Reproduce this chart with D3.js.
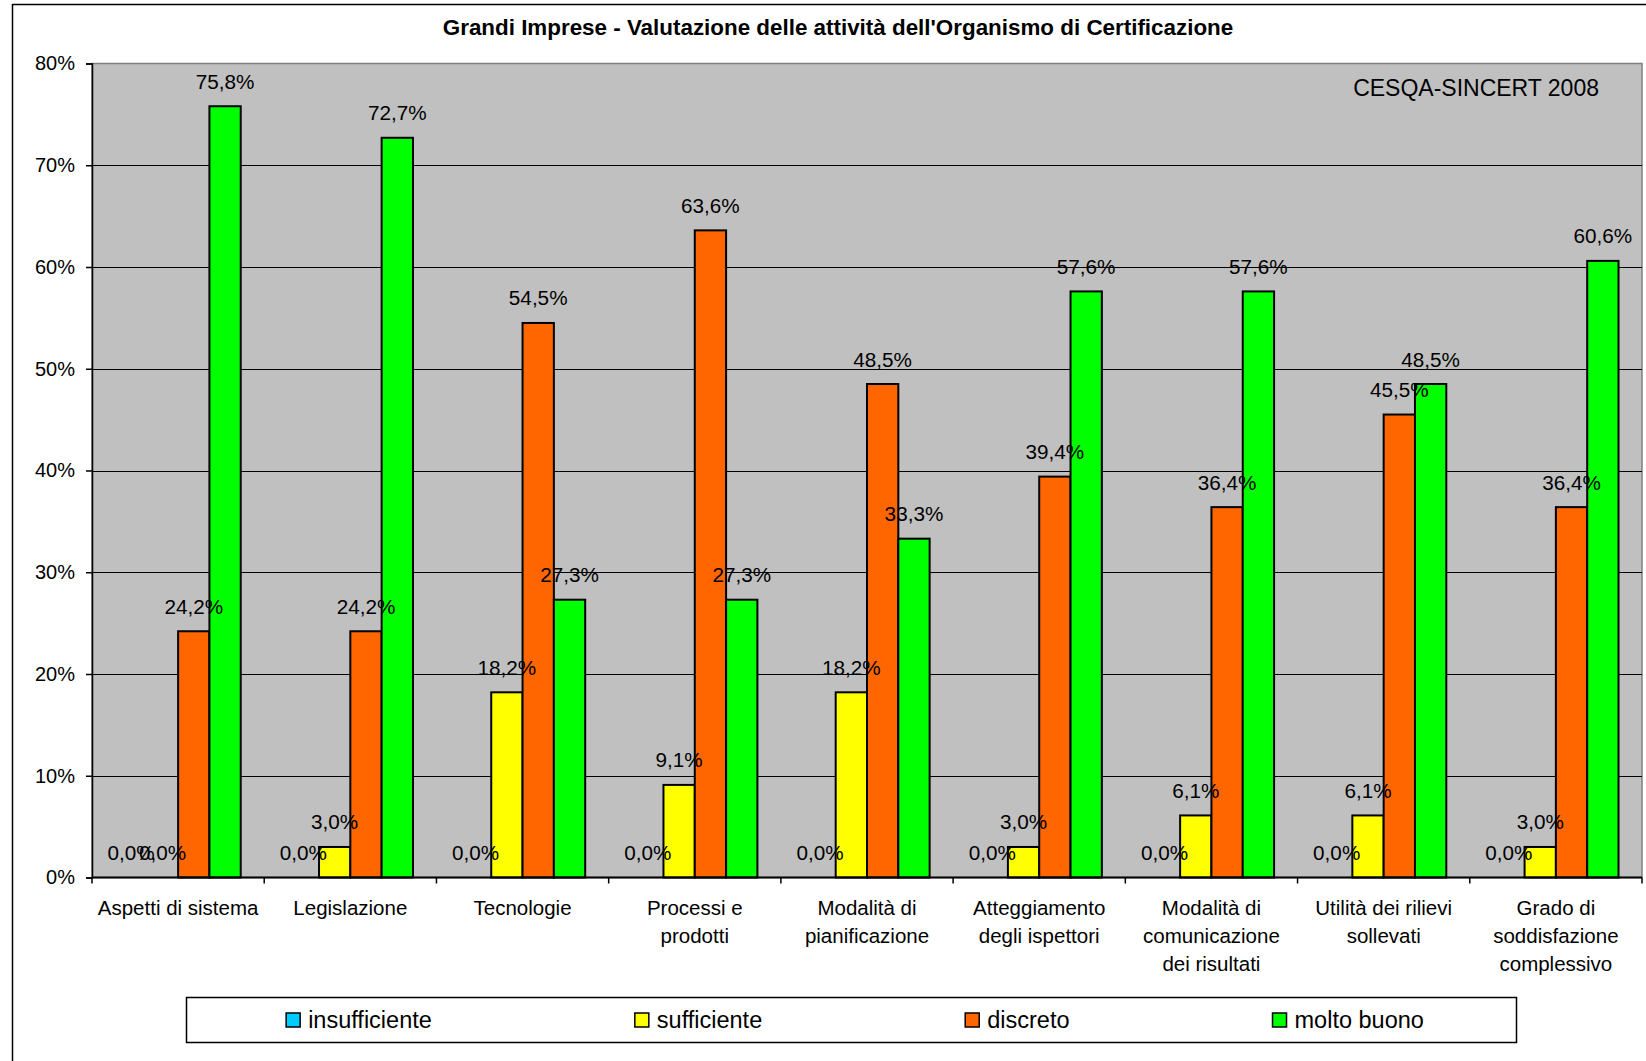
<!DOCTYPE html>
<html><head><meta charset="utf-8">
<script src="https://cdn.jsdelivr.net/npm/d3@7"></script>
<style>html,body{margin:0;padding:0;background:#fff;}svg{display:block;font-family:"Liberation Sans",Arial,sans-serif;}</style>
</head><body>
<svg id="c" width="1646" height="1061"></svg>
<script>
const categories = [
  ["Aspetti di sistema"],
  ["Legislazione"],
  ["Tecnologie"],
  ["Processi e", "prodotti"],
  ["Modalità di", "pianificazione"],
  ["Atteggiamento", "degli ispettori"],
  ["Modalità di", "comunicazione", "dei risultati"],
  ["Utilità dei rilievi", "sollevati"],
  ["Grado di", "soddisfazione", "complessivo"]
];
const seriesNames = ["insufficiente", "sufficiente", "discreto", "molto buono"];
const insufficiente = [0, 0, 0, 0, 0, 0, 0, 0, 0];
const sufficiente = [0, 3.0, 18.2, 9.1, 18.2, 3.0, 6.1, 6.1, 3.0];
const discreto = [24.2, 24.2, 54.5, 63.6, 48.5, 39.4, 36.4, 45.5, 36.4];
const moltoBuono = [75.8, 72.7, 27.3, 27.3, 33.3, 57.6, 57.6, 48.5, 60.6];
const seriesColors = ["#00CCFF", "#FFFF00", "#FF6600", "#00FF00"];
const yTicks = [0, 10, 20, 30, 40, 50, 60, 70, 80];
const title = "Grandi Imprese - Valutazione delle attività dell'Organismo di Certificazione";
const watermark = "CESQA-SINCERT 2008";

const series = [insufficiente, sufficiente, discreto, moltoBuono];
const svg = d3.select("#c");
const m = {left: 92, right: 1642, top: 63.5, bottom: 877.5};

// outer chart border
svg.append("rect").attr("x", 12.5).attr("y", 4.5).attr("width", 1700).attr("height", 1100)
  .attr("fill", "#fff").attr("stroke", "#000").attr("stroke-width", 1.5);

const x0 = d3.scaleBand().domain(d3.range(categories.length)).range([m.left, m.right]).paddingInner(0).paddingOuter(0);
const x1 = d3.scaleBand().domain(d3.range(series.length)).range([0, x0.bandwidth()]).paddingInner(0).paddingOuter(0.75);
const y = d3.scaleLinear().domain([0, 80]).range([m.bottom, m.top]);

// plot area
svg.append("rect").attr("x", m.left).attr("y", m.top).attr("width", m.right - m.left).attr("height", m.bottom - m.top)
  .attr("fill", "#C0C0C0").attr("stroke", "#808080").attr("stroke-width", 1.5);

// gridlines
svg.append("g").selectAll("line").data(yTicks.filter(t => t > 0 && t < 80)).join("line")
  .attr("x1", m.left).attr("x2", m.right).attr("y1", d => Math.round(y(d)) + 0.5).attr("y2", d => Math.round(y(d)) + 0.5)
  .attr("stroke", "#000").attr("stroke-width", 1);

// bars
const groups = svg.append("g").selectAll("g").data(categories).join("g")
  .attr("transform", (d, i) => `translate(${x0(i)},0)`);
const barData = (ci) => series.map((s, si) => ({si, v: s[ci]}));
groups.each(function(cat, ci) {
  const g = d3.select(this);
  g.selectAll("rect").data(barData(ci).filter(d => d.v > 0)).join("rect")
    .attr("x", d => x1(d.si)).attr("width", x1.bandwidth())
    .attr("y", d => y(d.v)).attr("height", d => y(0) - y(d.v))
    .attr("fill", d => seriesColors[d.si]).attr("stroke", "#000").attr("stroke-width", 2);
});
groups.each(function(cat, ci) {
  const g = d3.select(this);
  g.selectAll("text.lbl").data(barData(ci)).join("text").attr("class", "lbl")
    .attr("x", d => x1(d.si) + x1.bandwidth() / 2).attr("y", d => y(d.v) - 25)
    .attr("text-anchor", "middle").attr("dominant-baseline", "central")
    .attr("font-size", 20.7).attr("fill", "#000")
    .text(d => d.v.toFixed(1).replace(".", ",") + "%");
});

// y axis
const yAxis = d3.axisLeft(y).tickValues(yTicks).tickSize(6).tickPadding(11).tickFormat(d => d + "%");
const ya = svg.append("g").attr("transform", `translate(${m.left},0)`).call(yAxis);
ya.select(".domain").attr("stroke", "#000").attr("stroke-width", 1.5);
ya.selectAll(".tick line").attr("stroke", "#000").attr("stroke-width", 1.5);
ya.selectAll(".tick text").attr("font-size", 20).attr("font-family", "Liberation Sans, Arial, sans-serif").attr("fill", "#000");

// x axis
svg.append("line").attr("x1", m.left).attr("x2", m.right).attr("y1", m.bottom).attr("y2", m.bottom)
  .attr("stroke", "#000").attr("stroke-width", 2);
svg.append("g").selectAll("line").data(d3.range(categories.length + 1)).join("line")
  .attr("x1", i => i < categories.length ? x0(i) : m.right).attr("x2", i => i < categories.length ? x0(i) : m.right)
  .attr("y1", m.bottom).attr("y2", m.bottom + 6).attr("stroke", "#000").attr("stroke-width", 1.5);
const catG = svg.append("g").selectAll("text").data(categories).join("text")
  .attr("text-anchor", "middle").attr("font-size", 20.5).attr("fill", "#000")
  .attr("x", (d, i) => x0(i) + x0.bandwidth() / 2);
catG.each(function(lines, i) {
  d3.select(this).selectAll("tspan").data(lines).join("tspan")
    .attr("x", x0(i) + x0.bandwidth() / 2).attr("y", (d, k) => 915 + k * 28).text(d => d);
});

// title
svg.append("text").attr("x", 838).attr("y", 35).attr("text-anchor", "middle")
  .attr("font-size", 22.4).attr("font-weight", "bold").attr("fill", "#000").text(title);
// watermark
svg.append("text").attr("x", 1599).attr("y", 96).attr("text-anchor", "end")
  .attr("font-size", 23).attr("fill", "#000").text(watermark);

// legend
svg.append("rect").attr("x", 186.5).attr("y", 997.5).attr("width", 1330).attr("height", 45)
  .attr("fill", "#fff").attr("stroke", "#000").attr("stroke-width", 1.5);
const lg = svg.append("g");
const items = lg.selectAll("g").data(seriesNames).join("g");
items.append("rect").attr("x", 0).attr("y", -7).attr("width", 14).attr("height", 14)
  .attr("fill", (d, i) => seriesColors[i]).attr("stroke", "#000").attr("stroke-width", 1.5);
items.append("text").attr("x", 22).attr("y", 0).attr("dominant-baseline", "central")
  .attr("font-size", 23.5).attr("fill", "#000").text(d => d);
const widths = [];
items.each(function() { widths.push(this.getBBox().width); });
const gap = 203;
const total = d3.sum(widths) + gap * (widths.length - 1);
let cx = 186 + (1330 - total) / 2 + 4;
items.attr("transform", (d, i) => { const t = `translate(${cx},1020)`; cx += widths[i] + gap; return t; });
</script>
</body></html>
